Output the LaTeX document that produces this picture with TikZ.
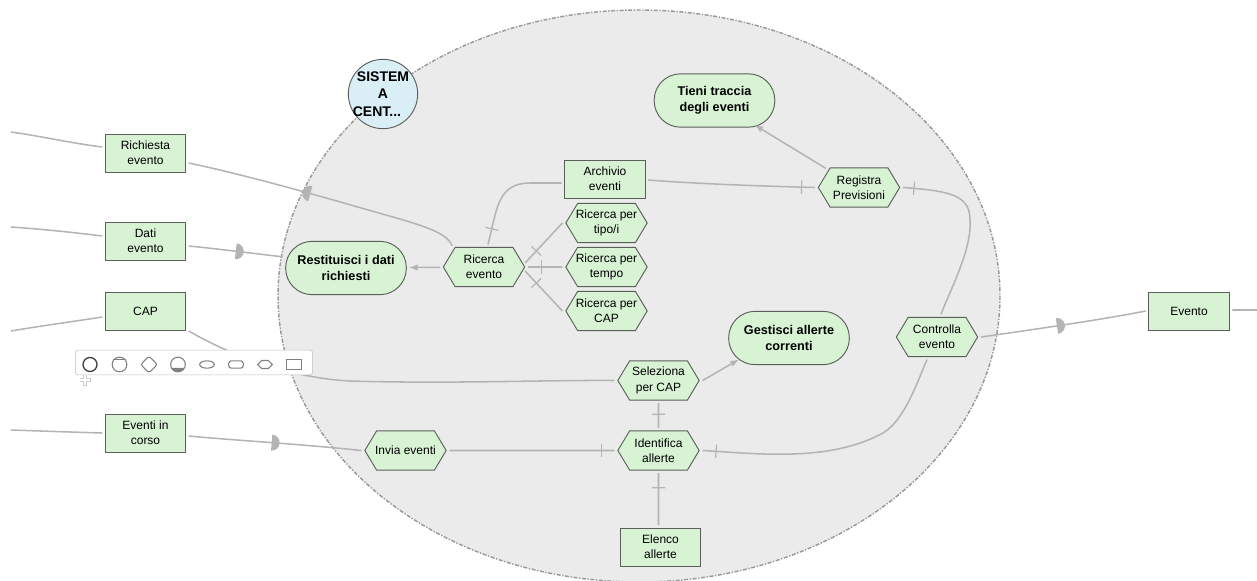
\documentclass[tikz,border=0pt]{standalone}
\usepackage{fontspec}
\setmainfont{Liberation Sans}
\usetikzlibrary{arrows, calc, decorations.markings, shapes.symbols, shapes.geometric}
\definecolor{boxfill}{HTML}{D8F3D4}
\definecolor{flowgray}{HTML}{B4B4B4}
\definecolor{areafill}{HTML}{EBEBEB}
\definecolor{skyfill}{HTML}{DAEEF6}
\definecolor{edgegray}{HTML}{5A5F5A}
\tikzset{
	base/.style={draw=edgegray, line width=0.7pt, fill=boxfill, align=center, inner sep=0pt, outer sep=2.2pt, font=\fontsize{9}{11.5}\selectfont},
	databox/.style={base, rectangle, minimum width=60.5pt, minimum height=28.5pt},
	funcbox/.style={base, signal, signal to=west and east, signal pointer angle=118, inner xsep=-5pt, minimum width=61pt, minimum height=29.5pt},
	eventbox/.style={base, rectangle, rounded corners=19.8pt, minimum width=90.5pt, minimum height=40pt, font=\fontsize{9.5}{12}\selectfont\bfseries},
	flow/.style={draw=flowgray, line width=1.15pt},
	tickat/.style={postaction={decorate, decoration={markings, mark=at position #1 with {\draw[flowgray, line width=0.9pt] (0,-5pt) -- (0,5pt);}}}},
	gateat/.style={postaction={decorate, decoration={markings, mark=at position #1 with {\fill[flowgray] (0,-6pt) arc[start angle=-90, end angle=90, radius=6pt] -- cycle;}}}},
	backgateat/.style={postaction={decorate, decoration={markings, mark=at position #1 with {\fill[flowgray] (0,-6pt) arc[start angle=-90, end angle=-270, radius=6pt] -- cycle;}}}},
	icon/.style={draw=#1, line width=0.8pt, fill=white, inner sep=0pt},
	icon/.default=gray
}
\begin{document}
\begin{tikzpicture}[x=0.75pt, y=-0.75pt]
	\useasboundingbox (0,0) rectangle (1257,581);
	\begin{scope}
		\clip (0,0) rectangle (1257,581);
		\draw[fill=areafill, draw=gray!80, line width=1.1pt, dash pattern=on 3pt off 1.2pt on 1pt off 1.2pt] (639,296) ellipse [x radius=361, y radius=286];
	\end{scope}
%
	\node[base, circle, fill=skyfill, inner sep=-4pt, minimum size=52pt, font=\fontsize{10.5}{13}\selectfont\bfseries] (Sistema) at (383,94) {SISTEM\\A\\CENT...\hspace*{9pt}};
%
	\node[databox] (Richiesta) at (145.5,153) {Richiesta\\evento};
	\node[databox] (Dati) at (145.5,241) {Dati\\evento};
	\node[databox] (Cap) at (145.5,311) {CAP};
	\node[databox] (Corso) at (145.5,433) {Eventi in\\corso};
	\node[databox] (Evento) at (1189,311) {Evento};
	\node[databox] (Archivio) at (605,179) {Archivio\\eventi};
	\node[databox] (Elenco) at (660.5,547) {Elenco\\allerte};
%
	\node[funcbox] (Ricerca) at (484,267) {Ricerca\\evento};
	\node[funcbox] (Tipo) at (606.5,223) {Ricerca per\\tipo/i};
	\node[funcbox] (Tempo) at (606.5,267) {Ricerca per\\tempo};
	\node[funcbox] (PerCap) at (606.5,311) {Ricerca per\\CAP};
	\node[funcbox] (Invia) at (405.5,450.5) {Invia eventi};
	\node[funcbox] (Seleziona) at (658.5,380.5) {Seleziona\\per CAP};
	\node[funcbox] (Identifica) at (658.5,450.5) {Identifica\\allerte};
	\node[funcbox] (Registra) at (859,187.5) {Registra\\Previsioni};
	\node[funcbox] (Controlla) at (937,337) {Controlla\\evento};
%
	\node[eventbox] (Restituisci) at (346,268) {Restituisci i dati\\richiesti};
	\node[eventbox] (Tieni) at (714.5,100.5) {Tieni traccia\\degli eventi};
	\node[eventbox] (Gestisci) at (789,338) {Gestisci allerte\\correnti};
%
	\coordinate (RichiestaIn) at (11,132);
	\coordinate (DatiIn) at (11,227);
	\coordinate (CapIn) at (11,331);
	\coordinate (CorsoIn) at (11,430);
	\coordinate (EventoOut) at (1257,310);
%
	\path[flow]
		(RichiestaIn) .. controls (40,136) and (70,143) .. (Richiesta.west |- 0,147)
		(DatiIn) .. controls (40,229) and (70,232) .. (Dati.west |- 0,236)
		(CapIn) .. controls (40,326) and (70,322) .. (Cap.west |- 0,317)
		(CorsoIn) .. controls (40,431) and (70,432) .. (Corso.west |- 0,433)
		(Evento.east |- 0,310) -- (EventoOut);
	\draw[flow, backgateat=0.45] (Richiesta.east |- 0,163) .. controls (260,178) and (350,205) .. (400,219) .. controls (430,228) and (447,234) .. (Ricerca.north west);
	\draw[flow, gateat=0.5] (Dati.east |- 0,246) .. controls (210,248) and (250,253) .. (Restituisci.170);
	\draw[flow] (Cap.east |- 0,331) .. controls (230,355) and (290,378) .. (350,381) .. controls (450,384) and (540,380) .. (Seleziona.west);
	\draw[flow, gateat=0.48] (Corso.east |- 0,436) .. controls (230,440) and (300,444) .. (Invia.west);
	\draw[flow, tickat=0.92] (Invia) -- (Identifica);
	\draw[flow, tickat=0.05] (Identifica.east) .. controls (760,454) and (830,462) .. (883,433) .. controls (905,420) and (918,380) .. ($(Controlla.south) + (-10,0)$);
	\draw[flow, tickat=0.94] (Controlla.80) .. controls (950,290) and (972,250) .. (970,220) .. controls (970,195) and (950,191) .. (Registra.east);
	\draw[flow, gateat=0.46] (Controlla.east) .. controls (1030,330) and (1100,320) .. (Evento.west);
	\draw[flow, tickat=0.92] (Archivio.east |- 0,180) .. controls (700,184) and (760,186) .. (Registra.west);
	\draw[flow, tickat=0.14] (Ricerca.80) .. controls (497,210) and (497,183) .. (530,183) -- (Archivio.west |- 0,183);
	\draw[flow, tickat=0.3] ($(Ricerca.east) + (-3,-4)$) -- (Tipo.west);
	\draw[flow, tickat=0.4] (Ricerca) -- (Tempo);
	\draw[flow, tickat=0.3] ($(Ricerca.east) + (-3,4)$) -- (PerCap.west);
	\draw[flow, tickat=0.55] (Identifica) -- (Seleziona);
	\draw[flow, tickat=0.72] (Elenco.north -| Identifica.south) -- (Identifica);
	\draw[flow, -latex] (Ricerca) -- (Restituisci);
	\draw[flow, -latex] (Registra.150) -- ($(Tieni.south east) + (-23,-5)$);
	\draw[flow, -latex] (Seleziona.east) -- ($(Gestisci.south west) + (13,-8)$);
%
	\node[draw=gray!50, fill=white, rounded corners=2pt, minimum width=178pt, minimum height=18.5pt, inner sep=0pt] (Toolbar) at (194,362.5) {};
	\node[icon=black!75, circle, line width=1pt, minimum size=10.5pt] (IconA) at (90,364.5) {};
	\node[icon, circle, minimum size=11pt] (IconB) at (119.5,364.5) {};
	\draw[gray, line width=0.8pt] (IconB.140) -- (IconB.40);
	\node[icon, rectangle, rotate=45, rounded corners=2pt, minimum size=9pt] (IconC) at (149,364.5) {};
	\node[icon, circle, minimum size=11pt] (IconD) at (178,364.5) {};
	\fill[gray] (IconD.205) arc[start angle=205, end angle=335, radius=5.5pt] -- cycle;
	\node[icon, ellipse, minimum width=11pt, minimum height=5.5pt] (IconE) at (207,364.5) {};
	\node[icon, rectangle, rounded corners=2pt, minimum width=11pt, minimum height=5.5pt] (IconF) at (236,364.5) {};
	\node[icon, signal, signal to=west and east, minimum width=11pt, minimum height=6pt] (IconG) at (265,364.5) {};
	\node[icon, rectangle, minimum width=11.5pt, minimum height=7pt] (IconH) at (294,364.5) {};
	\coordinate (Plus) at (85,380);
	\draw[gray!40, line width=3.4pt] ($(Plus)+(-5.5,0)$) -- ($(Plus)+(5.5,0)$) ($(Plus)+(0,-5.5)$) -- ($(Plus)+(0,5.5)$);
	\draw[white, line width=2.2pt] ($(Plus)+(-4.7,0)$) -- ($(Plus)+(4.7,0)$) ($(Plus)+(0,-4.7)$) -- ($(Plus)+(0,4.7)$);
\end{tikzpicture}
\end{document}
